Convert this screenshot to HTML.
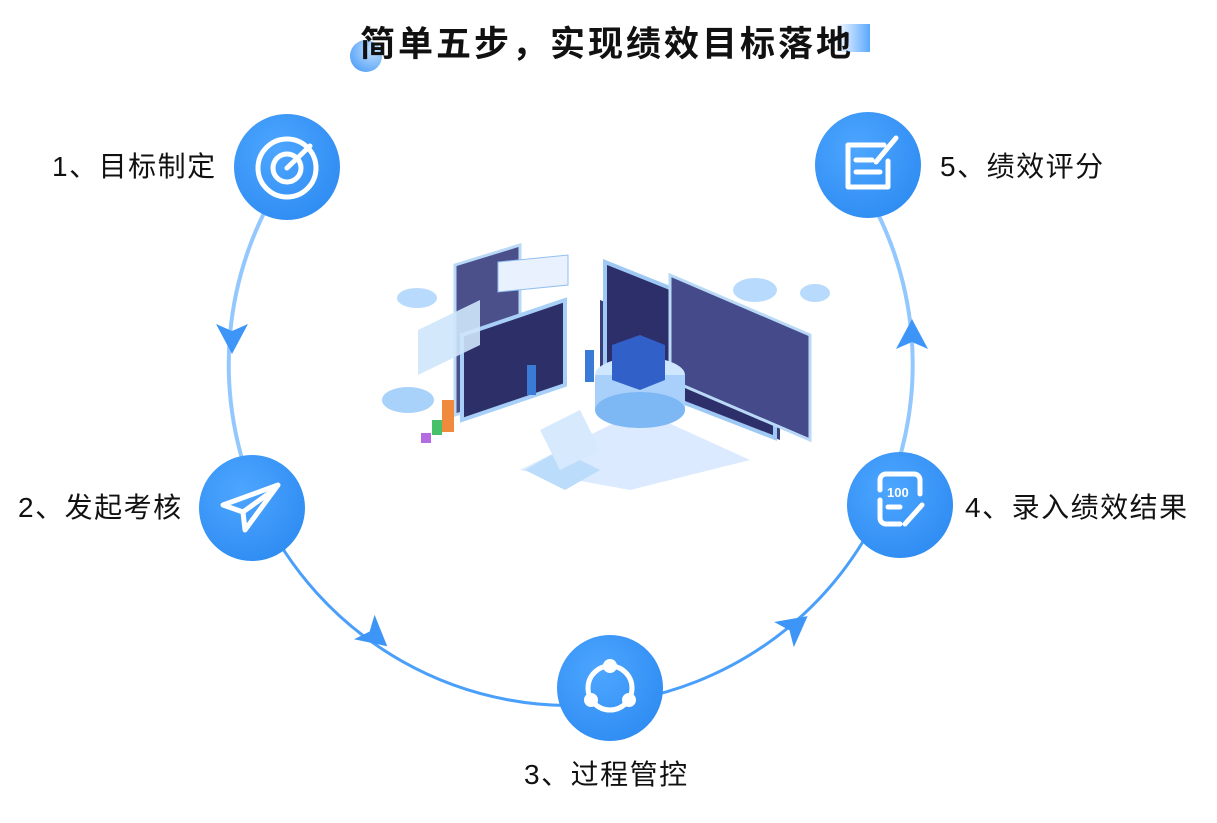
<!DOCTYPE html>
<html><head><meta charset="utf-8"><style>
body{margin:0;width:1217px;height:823px;background:#fff;position:relative;overflow:hidden;font-family:"Liberation Sans","Noto Sans CJK SC",sans-serif;}
.t{position:absolute;font-size:28px;letter-spacing:1.5px;color:#111;white-space:nowrap;line-height:1}
</style></head><body>
<div style="position:absolute;left:836px;top:24px;width:34px;height:28px;background:linear-gradient(90deg,#fff,#5aa8ff)"></div>
<div style="position:absolute;left:350px;top:40px;width:32px;height:32px;border-radius:50%;background:radial-gradient(circle at 70% 30%,#bfe0ff,#3f94f5)"></div>
<div class="t" style="left:360px;top:27px;font-size:35px;font-weight:bold;letter-spacing:3px">简单五步，实现绩效目标落地</div>
<div class="t" style="left:52px;top:153px">1、目标制定</div>
<div class="t" style="left:18px;top:494px">2、发起考核</div>
<div class="t" style="left:524px;top:761px">3、过程管控</div>
<div class="t" style="left:965px;top:494px">4、录入绩效结果</div>
<div class="t" style="left:940px;top:153px">5、绩效评分</div>
<svg width="1217" height="823" style="position:absolute;left:0;top:0">
<defs><radialGradient id="g" cx="40%" cy="35%" r="70%"><stop offset="0" stop-color="#4da6ff"/><stop offset="1" stop-color="#2f8cf2"/></radialGradient></defs>
<path d="M290,169 A342,342 0 0 0 259,505" fill="none" stroke="#93c8ff" stroke-width="4"/>
<path d="M259,505 A342,342 0 0 0 612,703 A342,342 0 0 0 885,499" fill="none" stroke="#4a9ffa" stroke-width="3"/>
<path d="M885,499 A342,342 0 0 0 855,174" fill="none" stroke="#93c8ff" stroke-width="4"/>
<g fill="#3d96f7">
<polygon points="-16,-14 0,-7 16,-14 0,16" transform="translate(232,338)"/>
<polygon points="-16,-14 0,-7 16,-14 0,16" transform="translate(375,636) rotate(-50)"/>
<polygon points="-16,-14 0,-7 16,-14 0,16" transform="translate(795,626) rotate(-128)"/>
<polygon points="-16,-14 0,-7 16,-14 0,16" transform="translate(912,335) rotate(180)"/>
</g>
<g fill="url(#g)">
<circle cx="287" cy="167" r="53"/><circle cx="252" cy="508" r="53"/><circle cx="610" cy="688" r="53"/><circle cx="900" cy="505" r="53"/><circle cx="868" cy="165" r="53"/>
</g>
<g fill="none" stroke="#fff" stroke-width="5" stroke-linecap="round" stroke-linejoin="round">
<circle cx="287" cy="168" r="29"/><circle cx="287" cy="168" r="14"/><line x1="287" y1="168" x2="310" y2="146"/>
<path d="M223,505 L278,485 L245,530 L243,512 Z"/><line x1="243" y1="512" x2="275" y2="489"/>
<circle cx="610" cy="688" r="22"/>
<path d="M880,490 v-10 a6,6 0 0 1 6,-6 h28 a6,6 0 0 1 6,6 v14 M880,500 v18 a6,6 0 0 0 6,6 h14"/>
<line x1="905" y1="524" x2="922" y2="505"/><line x1="888" y1="507" x2="900" y2="507"/>
<path d="M848,145 h36 M848,145 v42 h40 v-26"/><line x1="856" y1="160" x2="872" y2="160"/><line x1="856" y1="172" x2="880" y2="172"/><line x1="876" y1="162" x2="896" y2="138"/>
</g>
<g fill="#fff"><circle cx="610" cy="666" r="7"/><circle cx="591" cy="700" r="7"/><circle cx="629" cy="700" r="7"/></g>
<text x="887" y="497" font-size="13" font-weight="bold" fill="#fff" font-family="Liberation Sans">100</text>
<g>
<polygon points="520,470 640,410 750,460 630,490" fill="#dbeafe"/>
<polygon points="600,300 780,370 780,440 600,370" fill="#3a3f7a"/>
<polygon points="605,262 775,330 775,438 605,372" fill="#2d2f6a" stroke="#9fc9f5" stroke-width="4"/>
<polygon points="670,275 810,335 810,440 670,380" fill="#454a8a" stroke="#b9d9f7" stroke-width="3"/>
<polygon points="455,265 520,245 520,395 455,415" fill="#4b4f8a" stroke="#b9d9f7" stroke-width="3"/>
<polygon points="498,262 568,255 568,285 498,292" fill="#e8f1fd" stroke="#8fbff0"/>
<polygon points="462,335 565,300 565,385 462,420" fill="#2c2f68" stroke="#a7cff7" stroke-width="4"/>
<polygon points="418,330 480,300 480,345 418,375" fill="#cfe6fb" opacity=".9"/>
<ellipse cx="640" cy="375" rx="45" ry="18" fill="#cfe6ff"/>
<rect x="595" y="375" width="90" height="35" fill="#a8d0fb"/>
<ellipse cx="640" cy="410" rx="45" ry="18" fill="#7db8f5"/>
<polygon points="612,345 640,335 665,345 665,380 640,390 612,380" fill="#3260c9"/>
<polygon points="525,470 560,450 600,470 565,490" fill="#bcdcfb"/>
<polygon points="540,430 580,410 600,450 560,470" fill="#d7eafd"/>
<rect x="442" y="400" width="12" height="32" fill="#f08a3c"/><rect x="432" y="420" width="10" height="15" fill="#47c06a"/><rect x="421" y="433" width="10" height="10" fill="#b46ae0"/>
<ellipse cx="408" cy="400" rx="26" ry="13" fill="#a9d2fb"/><ellipse cx="417" cy="298" rx="20" ry="10" fill="#b8dafc"/>
<ellipse cx="755" cy="290" rx="22" ry="12" fill="#b8dafc"/><ellipse cx="815" cy="293" rx="15" ry="9" fill="#b8dafc"/>
<rect x="527" y="365" width="9" height="30" fill="#3a7bd5"/><rect x="585" y="350" width="9" height="32" fill="#3a7bd5"/>
</g>
</svg>
</body></html>
